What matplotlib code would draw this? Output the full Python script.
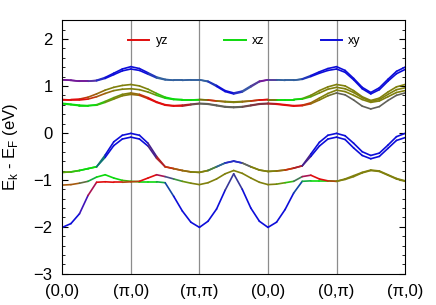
import numpy as np
import matplotlib
matplotlib.use('Agg')
import matplotlib.pyplot as plt
from matplotlib.collections import LineCollection
from matplotlib.lines import Line2D

plt.rcParams['font.family'] = ['Liberation Sans', 'DejaVu Sans']
plt.rcParams['mathtext.fontset'] = 'custom'
plt.rcParams['mathtext.rm'] = 'Liberation Sans'

# high-symmetry path, 8 steps per segment
k_labels = ['(0,0)', '(π,0)', '(π,π)', '(0,0)', '(0,π)', '(π,0)']
k = np.arange(41) / 8.0

# band energies (eV), segment by segment
U1 = [1.13, 1.12, 1.10, 1.10, 1.12, 1.18, 1.27, 1.36, 1.41,
      1.37, 1.28, 1.19, 1.14, 1.12, 1.12, 1.13, 1.13,
      1.10, 1.01, 0.90, 0.85, 0.89, 1.00, 1.10, 1.13,
      1.13, 1.12, 1.12, 1.15, 1.22, 1.30, 1.37, 1.41,
      1.33, 1.16, 0.97, 0.86, 0.96, 1.14, 1.31, 1.40]
U2 = [1.13, 1.12, 1.10, 1.10, 1.11, 1.16, 1.24, 1.32, 1.36,
      1.33, 1.25, 1.17, 1.13, 1.12, 1.12, 1.13, 1.13,
      1.09, 0.99, 0.88, 0.83, 0.87, 0.98, 1.09, 1.13,
      1.13, 1.12, 1.12, 1.14, 1.20, 1.27, 1.33, 1.36,
      1.29, 1.13, 0.94, 0.83, 0.92, 1.10, 1.26, 1.35]
M1 = [0.71, 0.71, 0.72, 0.76, 0.83, 0.91, 0.97, 1.01, 1.03,
      1.00, 0.93, 0.84, 0.76, 0.72, 0.71, 0.71, 0.71,
      0.70, 0.68, 0.67, 0.66, 0.67, 0.68, 0.70, 0.71,
      0.71, 0.71, 0.71, 0.73, 0.80, 0.90, 0.98, 1.03,
      1.00, 0.90, 0.77, 0.69, 0.74, 0.87, 0.98, 1.03]
M2 = [0.71, 0.70, 0.70, 0.72, 0.77, 0.84, 0.90, 0.93, 0.94,
      0.92, 0.87, 0.80, 0.74, 0.71, 0.70, 0.70, 0.71,
      0.70, 0.68, 0.66, 0.65, 0.66, 0.68, 0.70, 0.71,
      0.71, 0.71, 0.71, 0.72, 0.77, 0.85, 0.93, 0.97,
      0.94, 0.86, 0.75, 0.67, 0.71, 0.82, 0.92, 0.96]
M3 = [0.63, 0.61, 0.59, 0.58, 0.60, 0.67, 0.75, 0.82, 0.85,
      0.82, 0.75, 0.66, 0.60, 0.58, 0.59, 0.61, 0.63,
      0.62, 0.59, 0.56, 0.55, 0.56, 0.59, 0.62, 0.63,
      0.62, 0.60, 0.58, 0.59, 0.64, 0.74, 0.84, 0.91,
      0.88, 0.80, 0.71, 0.65, 0.68, 0.77, 0.86, 0.90]
M4 = [0.62, 0.60, 0.58, 0.58, 0.59, 0.65, 0.72, 0.79, 0.82,
      0.80, 0.73, 0.65, 0.59, 0.57, 0.57, 0.60, 0.62,
      0.61, 0.58, 0.55, 0.54, 0.55, 0.58, 0.61, 0.62,
      0.61, 0.59, 0.57, 0.58, 0.62, 0.70, 0.79, 0.85,
      0.81, 0.70, 0.57, 0.51, 0.56, 0.69, 0.80, 0.85]
L1 = [-0.84, -0.83, -0.80, -0.76, -0.72, -0.47, -0.19, -0.05, -0.01,
      -0.05, -0.22, -0.50, -0.72, -0.76, -0.80, -0.83, -0.84,
      -0.80, -0.72, -0.64, -0.60, -0.64, -0.72, -0.79, -0.82,
      -0.81, -0.79, -0.75, -0.70, -0.45, -0.20, -0.05, -0.01,
      -0.06, -0.22, -0.40, -0.48, -0.43, -0.26, -0.08, -0.01]
L2 = [-0.84, -0.83, -0.80, -0.76, -0.72, -0.52, -0.27, -0.13, -0.09,
      -0.13, -0.28, -0.54, -0.72, -0.76, -0.80, -0.83, -0.84,
      -0.80, -0.72, -0.64, -0.60, -0.64, -0.72, -0.79, -0.82,
      -0.81, -0.79, -0.75, -0.70, -0.50, -0.28, -0.13, -0.09,
      -0.14, -0.32, -0.48, -0.55, -0.50, -0.33, -0.16, -0.10]
L3 = [-1.11, -1.10, -1.07, -1.03, -0.94, -0.89, -0.96, -1.01, -1.03,
      -1.04, -1.04, -1.04, -1.06, -1.35, -1.66, -1.90, -2.01,
      -1.88, -1.62, -1.22, -0.87, -1.20, -1.60, -1.88, -2.01,
      -1.90, -1.63, -1.28, -1.03, -1.02, -1.02, -1.02, -1.03,
      -0.99, -0.93, -0.85, -0.80, -0.82, -0.90, -0.98, -1.03]
L4 = [-2.01, -1.93, -1.72, -1.33, -1.05, -1.04, -1.05, -1.05, -1.04,
      -1.03, -0.96, -0.89, -0.93, -0.98, -1.03, -1.07, -1.10,
      -1.06, -0.98, -0.87, -0.80, -0.86, -0.96, -1.05, -1.10,
      -1.09, -1.06, -1.03, -0.93, -0.90, -0.98, -1.02, -1.03,
      -0.98, -0.91, -0.84, -0.79, -0.81, -0.89, -0.97, -1.02]

# dominant orbital character at each point (one letter per point)
U_chr = 'ppppsbbbb' + 'bbSSSSSS' + 'SbbbsSpp' + 'SSSSbbbb' + 'bbbbbbbb'
M1_chr = 'rrrnnoooo' + 'ooyggggg' + 'rnooonrr' + 'gggyoooo' + 'oooooooo'
M2_chr = 'rrrrnnooo' + 'ooyggggg' + 'rnooonrr' + 'ggggyooo' + 'oooooooo'
M3_chr = 'gggggyyoo' + 'nrrrrrmk' + 'kkkkkmmm' + 'rrrrnooo' + 'oooooooo'
M4_chr = 'gggggyooo' + 'nrrrrrmk' + 'kkkkkmmm' + 'rrrrnook' + 'kkkkkkkk'
L_chr = 'yygggbbbb' + 'bbmrnnoo' + 'otsbsooo' + 'onrmbbbb' + 'bbbbbbbb'
L3_chr = 'nnntggggo' + 'gggtbbbb' + 'bbbkbbbb' + 'bbbtgggo' + 'oooooooo'
L4_chr = 'bbbprrrro' + 'rrrptyoo' + 'oooooooo' + 'oygprrro' + 'oooooooo'

rgb = {'r': (0.88, 0.05, 0.05), 'g': (0.05, 0.85, 0.05), 'b': (0.05, 0.05, 0.85),
       'o': (0.5, 0.5, 0.05), 'y': (0.35, 0.65, 0.05), 'n': (0.65, 0.35, 0.05),
       'm': (0.5, 0.2, 0.25), 'p': (0.45, 0.1, 0.6), 's': (0.25, 0.3, 0.7),
       'S': (0.2, 0.38, 0.62), 't': (0.1, 0.5, 0.45), 'k': (0.38, 0.38, 0.35)}

bands = [(U1, U_chr), (U2, U_chr), (M1, M1_chr), (M2, M2_chr), (M3, M3_chr),
         (M4, M4_chr), (L1, L_chr), (L2, L_chr), (L3, L3_chr), (L4, L4_chr)]

fig = plt.figure(figsize=(4.36, 3.05), dpi=100)
ax = fig.add_axes([0.143, 0.102, 0.786, 0.832])

for i in range(1, 5):
    ax.axvline(i, color='#8c8c8c', lw=0.9, zorder=1)

for e, ch in bands:
    pts = np.column_stack([k, e])
    segs = np.stack([pts[:-1], pts[1:]], axis=1)
    cols = [tuple((np.array(rgb[a]) + np.array(rgb[b])) / 2) for a, b in zip(ch[:-1], ch[1:])]
    lc = LineCollection(segs, colors=cols, linewidths=1.2, capstyle='round', zorder=2)
    ax.add_collection(lc)

ax.set_xlim(0, 5)
ax.set_ylim(-3, 2.4)
ax.set_xticks(range(6))
ax.set_xticklabels(k_labels)
ax.set_yticks(range(-3, 3))
ax.set_yticks(np.arange(-3, 2.41, 0.2), minor=True)
ax.tick_params(axis='x', length=0, pad=7, labelsize=12)
ax.tick_params(axis='y', which='both', direction='in', right=True, labelsize=12, pad=7)
ax.tick_params(axis='y', which='major', length=4)
ax.tick_params(axis='y', which='minor', length=2)
ax.set_ylabel('E$_\\mathrm{k}$ - E$_\\mathrm{F}$ (eV)', fontsize=12)
ax.yaxis.set_label_coords(-0.123, 0.5)

handles = [Line2D([], [], color=rgb['r'], lw=1.4),
           Line2D([], [], color=rgb['g'], lw=1.4),
           Line2D([], [], color=rgb['b'], lw=1.4)]
ax.legend(handles, ['yz', 'xz', 'xy'], ncol=3, frameon=False, fontsize=9,
          loc='center left', bbox_to_anchor=(0.192, 0.916), borderpad=0,
          borderaxespad=0, handlelength=1.7, handletextpad=0.5, columnspacing=4.5)

fig.savefig('out.png', dpi=100)
